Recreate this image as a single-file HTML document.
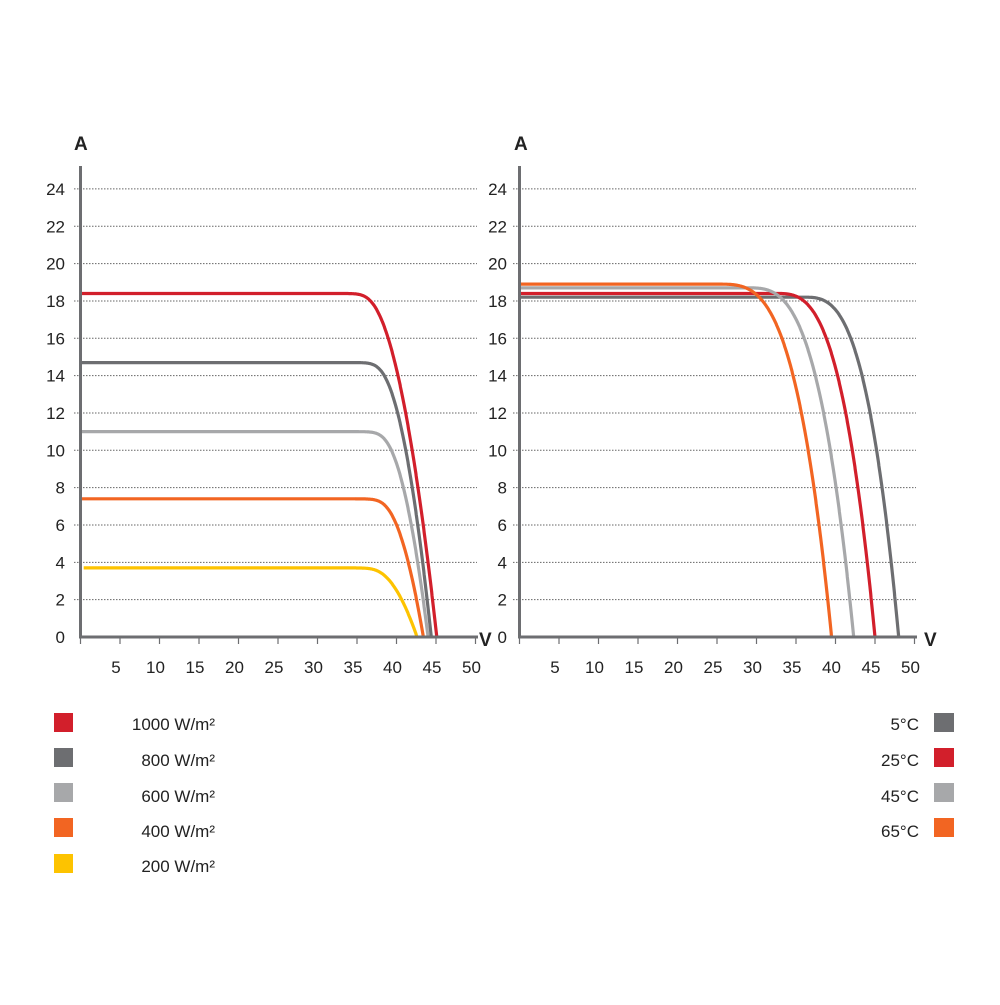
<!DOCTYPE html>
<html><head><meta charset="utf-8"><style>
html,body{margin:0;padding:0;background:#fff;}
svg text{font-family:"Liberation Sans",sans-serif;fill:#222;}
</style></head><body>
<svg id="s" width="1000" height="1000" viewBox="0 0 1000 1000" xmlns="http://www.w3.org/2000/svg">
<g id="grid"></g>
<g id="curves" fill="none" stroke-width="3.2" stroke-linejoin="round" stroke-linecap="butt"></g>
<g id="axes"></g>
<g id="labels" font-size="17"></g>
<text x="74" y="150" font-size="19" font-weight="bold">A</text>
<text x="514" y="150" font-size="19" font-weight="bold">A</text>
<text x="479" y="646" font-size="19" font-weight="bold">V</text>
<text x="924" y="646" font-size="19" font-weight="bold">V</text>
<rect x="54" y="713" width="19" height="19" fill="#d21f2b"/>
<rect x="54" y="748" width="19" height="19" fill="#6d6e71"/>
<rect x="54" y="783" width="19" height="19" fill="#a7a8aa"/>
<rect x="54" y="818" width="19" height="19" fill="#f26522"/>
<rect x="54" y="854" width="19" height="19" fill="#fdc300"/>
<g font-size="17" text-anchor="end">
<text x="215" y="730">1000 W/m²</text>
<text x="215" y="766">800 W/m²</text>
<text x="215" y="802">600 W/m²</text>
<text x="215" y="837">400 W/m²</text>
<text x="215" y="872">200 W/m²</text>
<text x="919" y="730">5°C</text>
<text x="919" y="766">25°C</text>
<text x="919" y="802">45°C</text>
<text x="919" y="837">65°C</text>
</g>
<rect x="934" y="713" width="20" height="19" fill="#6d6e71"/>
<rect x="934" y="748" width="20" height="19" fill="#d21f2b"/>
<rect x="934" y="783" width="20" height="19" fill="#a7a8aa"/>
<rect x="934" y="818" width="20" height="19" fill="#f26522"/>
</svg>
<script>
var NS="http://www.w3.org/2000/svg";
function el(p,t,a,txt){var e=document.createElementNS(NS,t);for(var k in a)e.setAttribute(k,a[k]);if(txt!==undefined)e.textContent=txt;document.getElementById(p).appendChild(e);}
var Y0=637,SY=18.67,SX=7.9;
var charts=[{x0:80.5,gx0:74,gx1:477,lx:65,xend:478},{x0:519.5,gx0:513,gx1:916,lx:507,xend:917}];
charts.forEach(function(c){
 for(var v=2;v<=24;v+=2){var y=Y0-v*SY;
  el('grid','line',{x1:c.gx0,x2:c.gx1,y1:y,y2:y,stroke:'#666','stroke-width':1,'stroke-dasharray':'1.5,1.5'});}
 for(var v=0;v<=24;v+=2){el('labels','text',{x:c.lx,y:Y0-v*SY+6,'text-anchor':'end'},String(v));}
 el('axes','line',{x1:c.x0,x2:c.x0,y1:166,y2:Y0+1.5,stroke:'#6d6e71','stroke-width':3});
 el('axes','line',{x1:c.x0-1.5,x2:c.xend,y1:Y0,y2:Y0,stroke:'#6d6e71','stroke-width':3});
 for(var v=0;v<=50;v+=5){var x=c.x0+v*SX;
  el('axes','line',{x1:x,x2:x,y1:Y0,y2:Y0+7,stroke:'#6d6e71','stroke-width':1.2});
  if(v>0)el('labels','text',{x:x-4,y:673,'text-anchor':'middle'},String(v));}
});
function draw(c,col,f,vs){
 var pts=[],V=vs||0,prevV=V;
 for(;V<=55;V+=0.05){
  var I=f(V);
  if(I<=0){ // find root
   var Ip=f(prevV),Vr=prevV+(V-prevV)*Ip/(Ip-I);
   pts.push((c.x0+Vr*SX).toFixed(1)+','+Y0);break;}
  pts.push((c.x0+V*SX).toFixed(1)+','+(Y0-I*SY).toFixed(1));prevV=V;
 }
 el('curves','polyline',{points:pts.join(' '),stroke:col});
}
function soft(Isc,Vs,S,p,w){return function(V){var x=V-Vs;var sp=w*Math.log(1+Math.exp(x/w));return Isc*(1-Math.pow(sp/S,p));};}
function pw(Isc,Voc,S,p){var Vs=Voc-S;return function(V){var t=Math.max(0,(V-Vs)/S);return Isc*(1-Math.pow(t,p));};}
var L=charts[0],R=charts[1];
draw(L,'#fdc300',soft(3.7,36.6,6.0,2,0.9),0.4);
draw(L,'#f26522',soft(7.4,37.5,5.9,2,0.9));
draw(L,'#a7a8aa',soft(11.0,37.5,6.5,2,0.9));
draw(L,'#6d6e71',soft(14.7,37.0,7.4,2,0.9));
draw(L,'#d21f2b',soft(18.4,35.5,9.6,2,0.9));
draw(R,'#6d6e71',pw(18.2,48.0,12,3));
draw(R,'#d21f2b',pw(18.4,45.0,12.5,3));
draw(R,'#a7a8aa',pw(18.7,42.3,13.5,3.1));
draw(R,'#f26522',pw(18.9,39.5,14.5,3.3));
</script>
</body></html>
